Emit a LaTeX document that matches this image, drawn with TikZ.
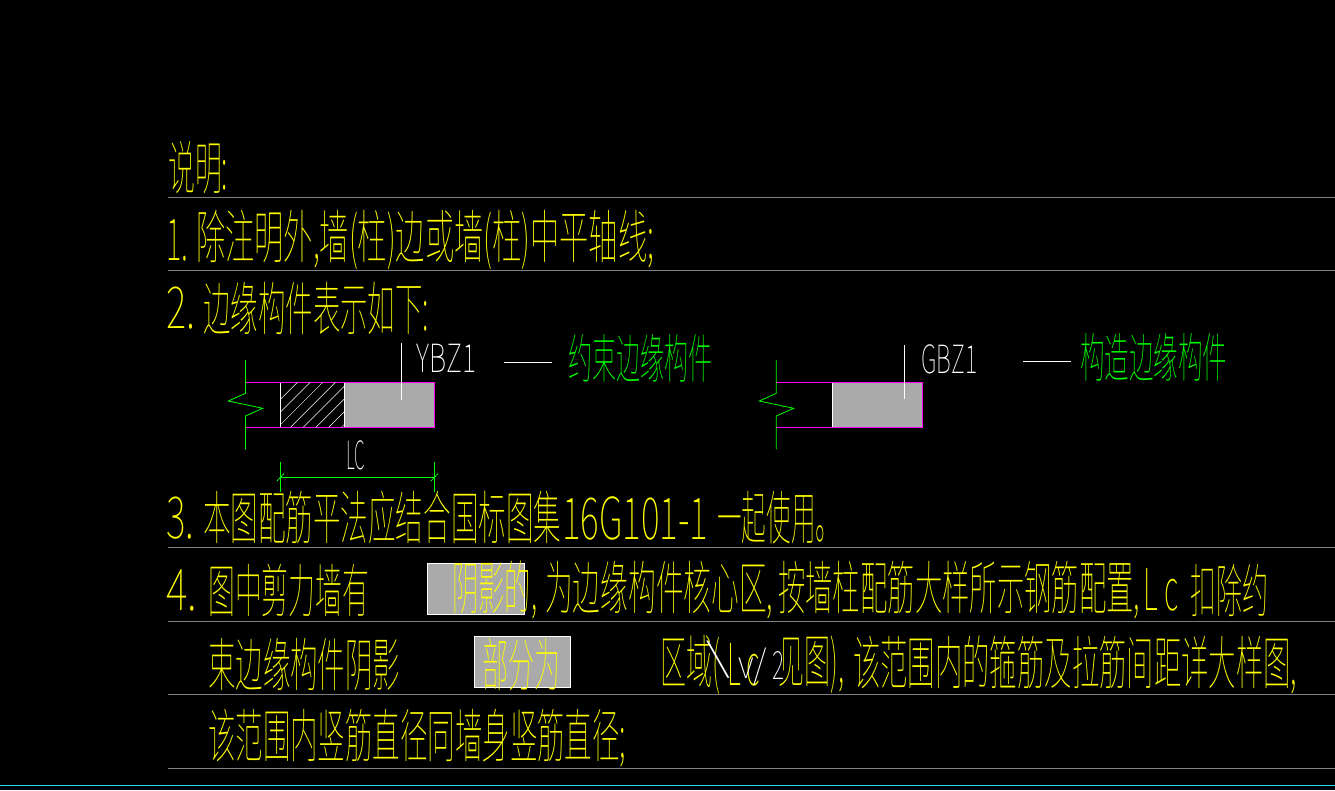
\documentclass[tikz,border=0pt]{standalone}
\usepackage{fontspec}
\usepackage{graphicx}
\newfontfamily\cadcjk{Noto Sans CJK SC Thin}
\usetikzlibrary{positioning}
\definecolor{cadyellow}{RGB}{255,255,0}
\definecolor{cadgreen}{RGB}{0,255,0}
\definecolor{cadpink}{RGB}{255,0,255}
\definecolor{cadgray}{RGB}{170,170,170}
\definecolor{cadrule}{RGB}{128,128,128}
\definecolor{cadcyan}{RGB}{40,220,230}
\newcommand{\cadrun}[2]{\resizebox{#1pt}{\height}{\fontsize{58}{58}\selectfont\cadcjk #2}}
\newcommand{\cadname}[2]{\resizebox{#1pt}{\height}{\fontsize{53}{53}\selectfont\cadcjk #2}}
\newcommand{\cadlatin}[2]{\resizebox{#1pt}{\height}{\fontsize{39}{39}\selectfont\cadcjk #2}}
\tikzset{
	yellowtext/.style={text=cadyellow, anchor=west, inner sep=0pt},
	greentext/.style={text=cadgreen, anchor=west, inner sep=0pt},
	whitetext/.style={text=white, anchor=west, inner sep=0pt},
	rule/.style={draw=cadrule, line width=0.8pt},
	wallline/.style={draw=cadpink, line width=0.9pt},
	breakline/.style={draw=cadgreen, line width=0.8pt},
	leadline/.style={draw=white, line width=0.8pt},
	shadebox/.style={draw=white, fill=cadgray, line width=0.8pt, minimum width=0pt}
}
\begin{document}
\begin{tikzpicture}[x=1pt,y=-1pt]
	\fill[black] (0,0) rectangle (1335,790);
	\useasboundingbox (0,0) rectangle (1335,790);
	% rules
	\foreach \ruley in {197,270,547,621,694,768}
		\draw[rule] (168,\ruley) -- (1335,\ruley);
	\draw[draw=cadcyan, line width=0.8pt] (0,785.3) -- (1335,785.3);
	% grey boxes
	\draw[shadebox] (427,563.5) rectangle (524.7,614.7);
	\draw[shadebox] (474.6,636) rectangle (570.6,687.7);
	% text
	\node (t0) [yellowtext] at (168,168) {\cadrun{60}{说明:}};
	\node (t1a) [yellowtext] at (166,240) {\cadrun{22}{1.}};
	\node (t1b) [yellowtext] at (196,240) {\cadrun{458}{除注明外,墙(柱)边或墙(柱)中平轴线;}};
	\node (t2a) [yellowtext] at (166,308) {\cadrun{29}{2.}};
	\node (t2b) [yellowtext] at (203,308) {\cadrun{226}{边缘构件表示如下:}};
	\node (t3a) [yellowtext] at (166,518) {\cadrun{28}{3.}};
	\node (t3b) [yellowtext] at (203,518) {\cadrun{358}{本图配筋平法应结合国标图集}};
	\node (t3c) [yellowtext] at (562,518) {\cadrun{146}{16G101-1}};
	\node (t3d) [yellowtext] at (717,518) {\cadrun{123}{一起使用。}};
	\node (t4a) [yellowtext] at (166,590) {\cadrun{31}{4.}};
	\node (t4g) [yellowtext] at (208,590) {\cadrun{161}{图中剪力墙有}};
	\node (t4b) [yellowtext] at (452,590) {\cadrun{85}{阴影的,}};
	\node (t4c) [yellowtext] at (545,590) {\cadrun{228}{为边缘构件核心区,}};
	\node (t4d) [yellowtext] at (778,590) {\cadrun{362}{按墙柱配筋大样所示钢筋配置,}};
	\node (t4e) [yellowtext] at (1143,590) {\cadrun{35}{L c}};
	\node (t4f) [yellowtext] at (1190,590) {\cadrun{78}{扣除约}};
	\node (t5a) [yellowtext] at (208,665) {\cadrun{192}{束边缘构件阴影}};
	\node (t5b) [yellowtext] at (482,665) {\cadrun{78}{部分为}};
	\node (t5c) [yellowtext] at (660,665) {\cadrun{60}{区域(}};
	\node (t5d) [yellowtext] at (727,665) {\cadrun{33}{L c}};
	\node (t5e) [yellowtext] at (778,665) {\cadrun{66}{见图),}};
	\node (t5f) [yellowtext] at (853,665) {\cadrun{444}{该范围内的箍筋及拉筋间距详大样图,}};
	\node (t5g) [whitetext] at (706,660) {\cadlatin{24}{\textbackslash}};
	\node (t5h) [whitetext] at (738,667) {\cadlatin{28}{v/}};
	\node (t5i) [whitetext] at (772,666) {\cadlatin{12}{2}};
	\node (t6) [yellowtext] at (208,738) {\cadrun{418}{该范围内竖筋直径同墙身竖筋直径;}};
	% first member
	\draw[wallline] (245.5,382.3) -- (434.5,382.3) -- (434.5,427.3) -- (245.5,427.3);
	\fill[cadgray] (344.3,382.8) rectangle (434,426.8);
	\begin{scope}
		\clip (280.5,382.3) rectangle (344.3,427.3);
		\foreach \hatchk in {0,...,7}
			\draw[white, line width=0.5pt] ({679.7+12.7*\hatchk-382.3},382.3) -- ({679.7+12.7*\hatchk-427.3},427.3);
	\end{scope}
	\draw[leadline] (280.5,382.8) -- (280.5,426.8);
	\draw[leadline] (344.3,382.8) -- (344.3,426.8);
	\draw[breakline] (245.5,360) -- (245.5,393.3) -- (228.3,401) -- (262.7,408.3) -- (245.5,416) -- (245.5,449.3);
	\draw[leadline] (401.3,343.3) -- (401.3,400);
	\node (ybz) [whitetext] at (416,358) {\cadlatin{60}{YBZ1}};
	\coordinate (ybzdash) at (504,362.3);
	\draw[leadline] (ybzdash) -- ++(48,0);
	\node (ybzname) [greentext] at (568,358) {\cadname{144}{约束边缘构件}};
	\node (lc) [whitetext] at (346,455) {\cadlatin{19}{LC}};
	\coordinate (dimleft) at (280.5,477.3);
	\coordinate (dimright) at (434.5,477.3);
	\draw[breakline] (dimleft) -- (dimright);
	\draw[breakline] (280.5,462.3) -- (280.5,492);
	\draw[breakline] (434.5,462.3) -- (434.5,492);
	\draw[breakline] (277,481) -- (284,473.5);
	\draw[breakline] (431,481) -- (438,473.5);
	% second member
	\draw[wallline] (776.3,382.3) -- (922.7,382.3) -- (922.7,427.3) -- (776.3,427.3);
	\fill[cadgray] (832.3,382.8) rectangle (922.2,426.8);
	\draw[leadline] (832.3,382.8) -- (832.3,426.8);
	\draw[breakline] (776.3,360) -- (776.3,393.3) -- (759.3,401) -- (793.7,408.3) -- (776.3,416) -- (776.3,449.3);
	\draw[leadline] (904.3,345) -- (904.3,398.7);
	\node (gbz) [whitetext] at (921,359) {\cadlatin{56}{GBZ1}};
	\coordinate (gbzdash) at (1023.3,361.3);
	\draw[leadline] (gbzdash) -- ++(48,0);
	\node (gbzname) [greentext] at (1080,357) {\cadname{147}{构造边缘构件}};
\end{tikzpicture}
\end{document}
